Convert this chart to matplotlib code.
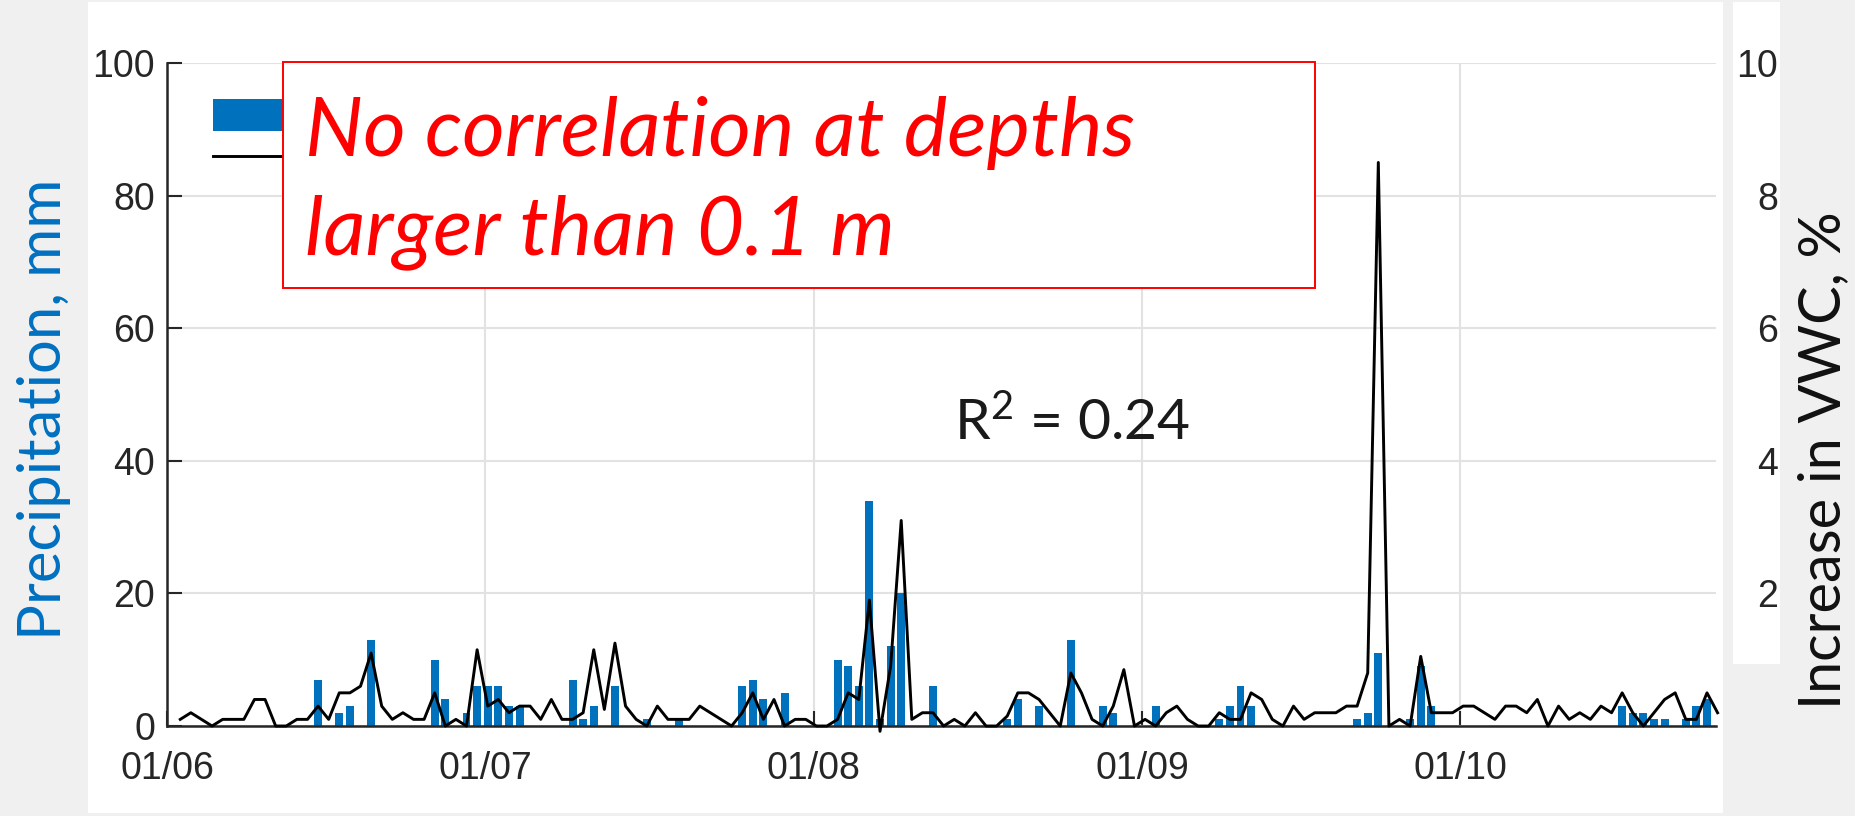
import numpy as np
import pandas as pd
import matplotlib
matplotlib.use("Agg")
import matplotlib.pyplot as plt
import matplotlib.dates as mdates
from matplotlib.patches import Rectangle

plt.rcParams["font.family"] = "Liberation Sans"
plt.rcParams["mathtext.fontset"] = "custom"
plt.rcParams["mathtext.rm"] = "Lato"
plt.rcParams["mathtext.it"] = "Lato:italic"

# daily increase in VWC (%), days 1..146 after 01/06
vwc_day = np.arange(1, 147)
vwc = [0.1, 0.2, 0.1, 0, 0.1, 0.1, 0.1, 0.4, 0.4, 0,
       0, 0.1, 0.1, 0.3, 0.1, 0.5, 0.5, 0.6, 1.1, 0.3,
       0.1, 0.2, 0.1, 0.1, 0.5, 0, 0.1, 0, 1.15, 0.3,
       0.4, 0.2, 0.3, 0.3, 0.1, 0.4, 0.1, 0.1, 0.2, 1.15,
       0.25, 1.25, 0.3, 0.1, 0, 0.3, 0.1, 0.1, 0.1, 0.3,
       0.2, 0.1, 0, 0.2, 0.5, 0.1, 0.4, 0, 0.1, 0.1,
       0, 0, 0.1, 0.5, 0.4, 1.9, -0.08, 0.9, 3.1, 0.1,
       0.2, 0.2, 0, 0.1, 0, 0.2, 0, 0, 0.15, 0.5,
       0.5, 0.4, 0.2, 0, 0.8, 0.5, 0.1, 0, 0.3, 0.85,
       0, 0.1, 0, 0.2, 0.3, 0.1, 0, 0, 0.2, 0.1,
       0.1, 0.5, 0.4, 0.1, 0, 0.3, 0.1, 0.2, 0.2, 0.2,
       0.3, 0.3, 0.8, 8.5, 0, 0.1, 0, 1.05, 0.2, 0.2,
       0.2, 0.3, 0.3, 0.2, 0.1, 0.3, 0.3, 0.2, 0.4, 0,
       0.3, 0.1, 0.2, 0.1, 0.3, 0.2, 0.5, 0.2, 0, 0.2,
       0.4, 0.5, 0.1, 0.1, 0.5, 0.2]

# precipitation (mm), only rainy days
precip_day = [14, 16, 17, 19, 25, 26, 28, 29, 30, 31,
              32, 33, 38, 39, 40, 42, 45, 48, 54, 55,
              56, 58, 63, 64, 65, 66, 67, 68, 69, 72,
              79, 80, 82, 85, 88, 89, 93, 99, 100, 101,
              102, 112, 113, 114, 117, 118, 119, 137, 138, 139,
              140, 141, 143, 144, 145]
precip_mm = [7, 2, 3, 13, 10, 4, 2, 6, 6, 6,
             3, 3, 7, 1, 3, 6, 1, 1, 6, 7,
             4, 5, 10, 9, 6, 34, 1, 12, 20, 6,
             1, 4, 3, 13, 3, 2, 3, 1, 3, 6,
             3, 1, 2, 11, 1, 9, 3, 3, 2, 2,
             1, 1, 1, 3, 4]

left_ticks = [0, 20, 40, 60, 80, 100]
right_ticks = [2, 4, 6, 8, 10]

start = pd.Timestamp("2019-06-01")
x_vwc = start + pd.to_timedelta(vwc_day, unit="D") + pd.Timedelta(hours=6)
x_precip = start + pd.to_timedelta(precip_day, unit="D") + pd.Timedelta(hours=6)

W, H = 1856, 816
fig = plt.figure(figsize=(W / 100, H / 100), dpi=100, facecolor="#f0f0f0")


def fx(px):
    return px / W


def fy(py):
    return 1 - py / H


# white screenshot panels
fig.add_artist(Rectangle((fx(88), fy(813)), fx(1723 - 88), (813 - 2) / H,
                         transform=fig.transFigure, facecolor="white",
                         edgecolor="none", zorder=-1))
fig.add_artist(Rectangle((fx(1733), fy(664)), fx(1780 - 1733), (664 - 2) / H,
                         transform=fig.transFigure, facecolor="white",
                         edgecolor="none", zorder=-1))

ax = fig.add_axes([fx(167), fy(726), fx(1716 - 167), (726 - 63) / H])
ax.set_facecolor("white")
bars = ax.bar(x_precip, precip_mm, width=0.75, color="#0072BD", zorder=2)

ax2 = ax.twinx()
line, = ax2.plot(x_vwc, vwc, color="black", lw=2.1, clip_on=False)

ax.set_xlim(start, start + pd.Timedelta(days=146.1))
ax.set_ylim(0, 100)
ax2.set_ylim(0, 10)

ax.xaxis.set_major_locator(mdates.MonthLocator())
ax.xaxis.set_major_formatter(mdates.DateFormatter("%d/%m"))
ax.set_yticks(left_ticks)
ax.grid(True, color="#e2e2e2", lw=1.5)
ax.set_axisbelow(True)
ax.tick_params(direction="in", length=11, width=1.5, colors="#262626",
               labelsize=27, pad=8.5)
ax.tick_params(axis="x", pad=18)
for s in ["top", "right"]:
    ax.spines[s].set_visible(False)
for s in ["left", "bottom"]:
    ax.spines[s].set_linewidth(1.8)
    ax.spines[s].set_color("#262626")

for s in ax2.spines.values():
    s.set_visible(False)
ax2.set_yticks(right_ticks)
ax2.tick_params(axis="y", length=0, pad=44.5, labelsize=27, colors="#262626")
for t in ax2.get_yticklabels():
    t.set_ha("right")

# legend text is hidden behind the red box in the original, keep only the keys
ax2.legend([bars, line], ["", ""], loc="upper left",
           bbox_to_anchor=(fx(213), fy(99)), bbox_transform=fig.transFigure,
           frameon=False, borderpad=0, borderaxespad=0, fontsize=27,
           handlelength=3, handleheight=0.93, labelspacing=0.16,
           handletextpad=0.5)

# red annotation box
fig.add_artist(Rectangle((fx(283), fy(288)), fx(1315 - 283), (288 - 62) / H,
                         transform=fig.transFigure, facecolor="white",
                         edgecolor="red", lw=1.4, zorder=3))
fig.text(fx(305), fy(156), "No correlation at depths", color="red",
         fontsize=59, style="italic", family="Lato", va="baseline", zorder=4)
fig.text(fx(305), fy(254), "larger than 0.1 m", color="red",
         fontsize=59, style="italic", family="Lato", va="baseline", zorder=4)

fig.text(fx(954), fy(440), r"R$^2$ = 0.24", color="#1a1a1a", fontsize=41,
         family="Lato", va="baseline")

fig.text(fx(44), fy(409), "Precipitation, mm", rotation=90, color="#0070C0",
         fontsize=43, family="Lato", ha="center", va="center")
fig.text(fx(1824), fy(460), "Increase in VWC, %", rotation=90, color="#111111",
         fontsize=41.5, family="Lato", ha="center", va="center")

fig.savefig("out.png", dpi=100, facecolor=fig.get_facecolor())
